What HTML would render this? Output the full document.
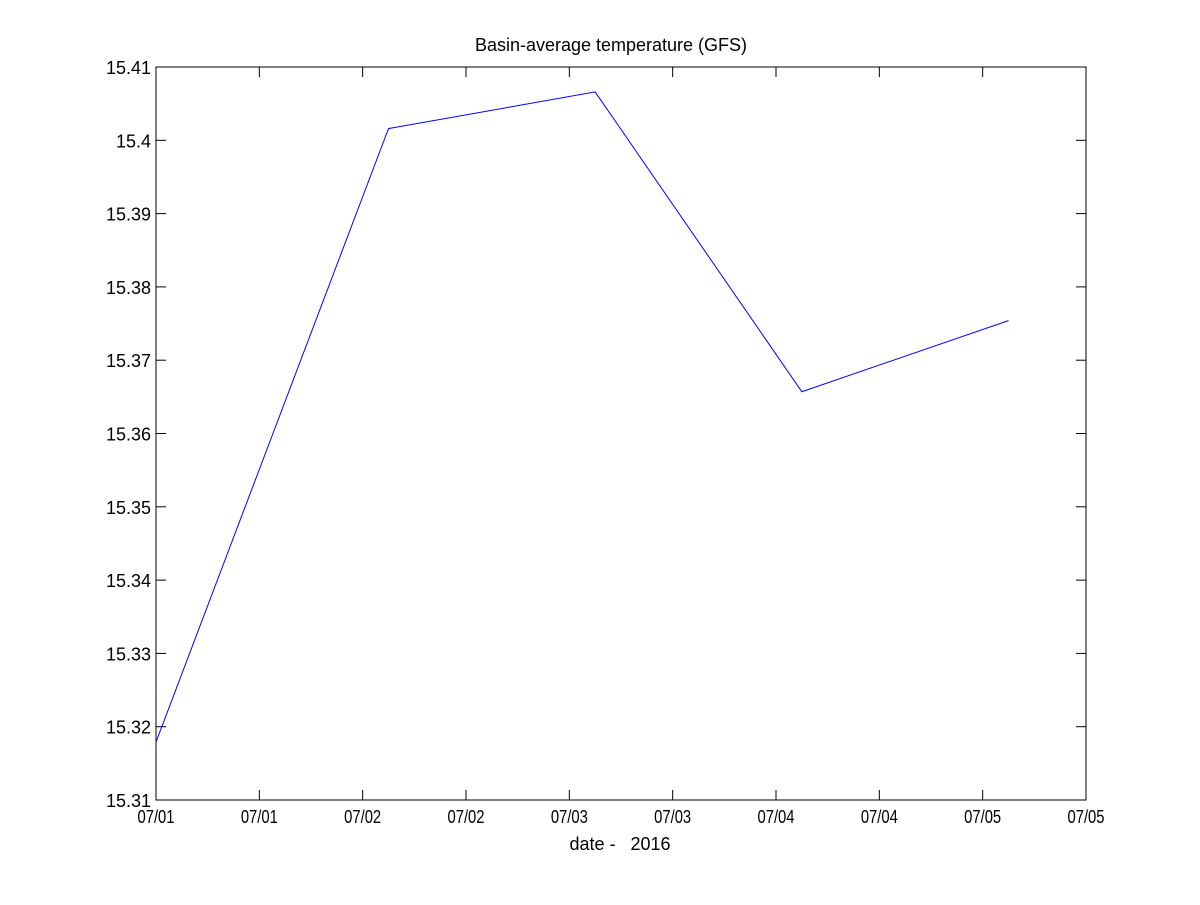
<!DOCTYPE html>
<html><head><meta charset="utf-8"><style>
body{margin:0;background:#fff;}
svg text{font-family:"Liberation Sans",sans-serif;font-size:18px;fill:#000;}
</style></head><body>
<svg width="1200" height="900" id="c">
<rect width="1200" height="900" fill="#fff"/>
</svg>
<script>
const xTickLabels=["07/01","07/01","07/02","07/02","07/03","07/03","07/04","07/04","07/05","07/05"];
const yTickLabels=["15.31","15.32","15.33","15.34","15.35","15.36","15.37","15.38","15.39","15.4","15.41"];
const days=[0,1.125,2.125,3.125,4.125];
const temps=[15.3179,15.4016,15.4066,15.3657,15.3754];
const L=156,R=1086,T=67,B=800,xMin=0,xMax=4.5,yMin=15.31,yMax=15.41;
const sx=d=>L+(d-xMin)/(xMax-xMin)*(R-L);
const sy=v=>B-(v-yMin)/(yMax-yMin)*(B-T);
const svg=document.getElementById('c');const NS="http://www.w3.org/2000/svg";
function mk(t,a){const e=document.createElementNS(NS,t);for(const k in a)e.setAttribute(k,a[k]);svg.appendChild(e);return e;}
const frame=mk('rect',{x:L,y:T,width:R-L,height:B-T,fill:'none',stroke:'#000','stroke-width':1});


xTickLabels.forEach((lab,i)=>{const d=xMin+i*(xMax-xMin)/(xTickLabels.length-1);const x=sx(d);
const t1=mk('line',{x1:x,x2:x,y1:B,y2:B-10,stroke:'#000'});


const t2=mk('line',{x1:x,x2:x,y1:T,y2:T+10,stroke:'#000'});


const tx=mk('text',{x:x,y:B+23,'text-anchor':'middle',textLength:37,lengthAdjust:'spacingAndGlyphs'});tx.textContent=lab;

});
yTickLabels.forEach((lab,i)=>{const v=yMin+i*(yMax-yMin)/(yTickLabels.length-1);const y=sy(v);
const t1=mk('line',{x1:L,x2:L+10,y1:y,y2:y,stroke:'#000'});


const t2=mk('line',{x1:R,x2:R-10,y1:y,y2:y,stroke:'#000'});


const tx=mk('text',{x:L-5,y:y+7,'text-anchor':'end'});tx.textContent=lab;

});
const pl=mk('polyline',{points:days.map((d,i)=>sx(d)+','+sy(temps[i])).join(' '),fill:'none',stroke:'#0000ff','stroke-width':1});


const ti=mk('text',{x:611,y:51,'text-anchor':'middle','font-size':'17px'});ti.textContent='Basin-average temperature (GFS)';


const xl=mk('text',{x:620,y:850,'text-anchor':'middle'});xl.textContent='date -   2016';xl.setAttribute('xml:space','preserve');xl.style.whiteSpace='pre';


</script>
</body></html>
